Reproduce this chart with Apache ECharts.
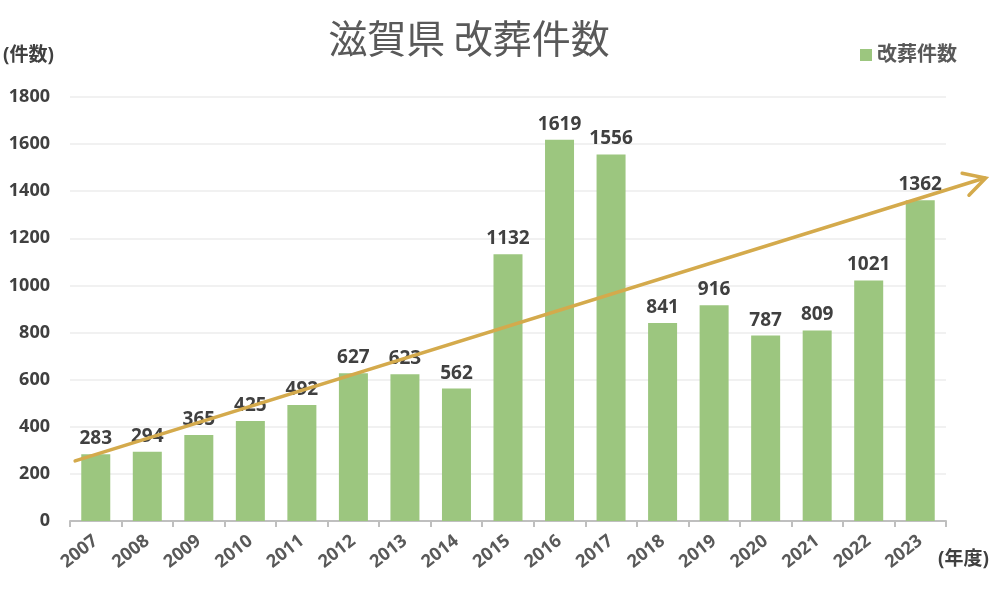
<!DOCTYPE html>
<html>
<head>
<meta charset="utf-8">
<script src="https://cdn.jsdelivr.net/npm/echarts@6/dist/echarts.min.js"></script>
<style>html,body{margin:0;padding:0;background:#fff}#c{width:1000px;height:593px}</style>
</head>
<body>
<div id="c"></div>
<script>
const years = ['2007','2008','2009','2010','2011','2012','2013','2014','2015','2016','2017','2018','2019','2020','2021','2022','2023'];
const counts = [283,294,365,425,492,627,623,562,1132,1619,1556,841,916,787,809,1021,1362];
const yTicks = [0,200,400,600,800,1000,1200,1400,1600,1800];
// trend arrow endpoints: [category position, value]
const trendStart = [-0.40, 255];
const trendEnd = [17.27, 1456];

const FONT = '"Open Sans","Noto Sans CJK JP",sans-serif';
const chart = echarts.init(document.getElementById('c'), null, {renderer:'canvas'});
chart.setOption({
  animation:false,
  title:{text:'滋賀県 改葬件数', left:464, top:14, textAlign:'center',
    textStyle:{fontFamily:'"Noto Sans CJK JP",sans-serif', fontSize:39, fontWeight:'normal', color:'#595959'}},
  legend:{data:['改葬件数'], right:38, top:40, icon:'rect', itemWidth:12, itemHeight:12, itemGap:6,
    textStyle:{fontFamily:FONT, fontSize:20, fontWeight:'bold', color:'#595959'}},
  grid:{left:70, right:54, top:97, bottom:72, containLabel:false},
  xAxis:[{type:'category', data:years,
    axisLine:{lineStyle:{color:'#bfbfbf', width:2}},
    axisTick:{show:true, alignWithLabel:false, length:6, lineStyle:{color:'#bfbfbf', width:2}},
    axisLabel:{rotate:38, margin:18, fontFamily:FONT, fontSize:18, fontWeight:'bold', color:'#595959'}},
    {type:'value', min:-0.5, max:16.5, show:false}],
  yAxis:{type:'value', min:0, max:1800, interval:200,
    axisLine:{show:false}, axisTick:{show:false},
    splitLine:{lineStyle:{color:'#ececec', width:1.5}},
    axisLabel:{margin:20, fontFamily:FONT, fontSize:18, fontWeight:'bold', color:'#404040',
      formatter:function(v){return yTicks.indexOf(v)>=0? String(v):'';}}},
  series:[{name:'改葬件数', type:'bar', data:counts, barWidth:29,
    itemStyle:{color:'#9cc67f'},
    label:{show:true, position:'top', distance:6, fontFamily:FONT, fontSize:19, fontWeight:'bold', color:'#404040'}}]
});

function drawTrend(){
  const p0 = chart.convertToPixel({xAxisIndex:1, yAxisIndex:0}, trendStart);
  const p1 = chart.convertToPixel({xAxisIndex:1, yAxisIndex:0}, trendEnd);
  const ang = Math.atan2(p1[1]-p0[1], p1[0]-p0[0]);
  const L = 24, a = 0.5;
  const h1 = [p1[0]-L*Math.cos(ang-a), p1[1]-L*Math.sin(ang-a)];
  const h2 = [p1[0]-L*Math.cos(ang+a), p1[1]-L*Math.sin(ang+a)];
  const col = '#d4aa4c';
  chart.setOption({graphic:[
    {type:'line', z:100, shape:{x1:p0[0], y1:p0[1], x2:p1[0]-1, y2:p1[1]}, style:{stroke:col, lineWidth:3.5, lineCap:'round'}},
    {type:'polyline', z:100, shape:{points:[h1,p1,h2]}, style:{stroke:col, lineWidth:3.5, fill:null, lineJoin:'miter', lineCap:'round'}},
    {type:'text', left:3, top:46, style:{text:'(件数)', fontFamily:FONT, fontSize:19, fontWeight:'bold', fill:'#404040'}},
    {type:'text', left:938, top:550, style:{text:'(年度)', fontFamily:FONT, fontSize:19, fontWeight:'bold', fill:'#404040'}}
  ]});
}
drawTrend();
</script>
</body>
</html>
